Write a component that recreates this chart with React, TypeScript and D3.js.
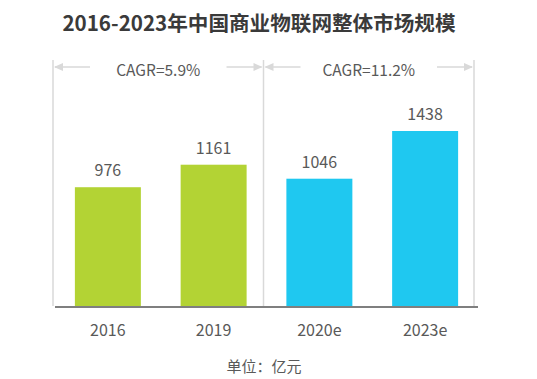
import React from "react";
import * as d3 from "d3";

const categories = ["2016", "2019", "2020e", "2023e"];
const values = [976, 1161, 1046, 1438];
const barColors = ["#b3d334", "#b3d334", "#1fc8f0", "#1fc8f0"];
const cagrLabels = ["CAGR=5.9%", "CAGR=11.2%"];
const cagrGroups = [["2016", "2019"], ["2020e", "2023e"]];
const title = "2016-2023年中国商业物联网整体市场规模";
const unitLabel = "单位：亿元";

const W = 537;
const H = 379;
const FONT = "'Noto Sans CJK SC', 'Open Sans', sans-serif";

export default function App() {
  const x = d3
    .scaleBand<string>()
    .domain(categories)
    .range([55, 478])
    .paddingInner(0.376)
    .paddingOuter(0.188);
  const y = d3.scaleLinear().domain([0, 1438]).range([306, 131]);

  const dividers = [53, 263.5, 474];
  const arrowY = 67;
  const gray = "#d9d9d9";

  return (
    <div style={{ position: "fixed", left: 0, top: 0 }}>
      <svg width={W} height={H} style={{ display: "block", background: "#fff" }}>
        <text
          x={259}
          y={22}
          textAnchor="middle"
          dominantBaseline="central"
          fontFamily={FONT}
          fontWeight="bold"
          fontSize={20.6}
          fill="#3a3a3a"
        >
          {title}
        </text>

        {dividers.map((dx, i) => (
          <line key={i} x1={dx} x2={dx} y1={60} y2={306} stroke={gray} strokeWidth={1.5} />
        ))}

        {cagrGroups.map((g, i) => {
          const left = dividers[i];
          const right = dividers[i + 1];
          const cx = (left + right) / 2;
          const half = (right - left) / 2;
          const gap = half - 37;
          return (
            <g key={i}>
              <line x1={left + 2} x2={cx - gap} y1={arrowY} y2={arrowY} stroke={gray} strokeWidth={1.5} />
              <line x1={cx + gap} x2={right - 2} y1={arrowY} y2={arrowY} stroke={gray} strokeWidth={1.5} />
              <path
                d={`M${left + 1},${arrowY} L${left + 10},${arrowY - 4} L${left + 10},${arrowY + 4} Z`}
                fill={gray}
              />
              <path
                d={`M${right - 1},${arrowY} L${right - 10},${arrowY - 4} L${right - 10},${arrowY + 4} Z`}
                fill={gray}
              />
              <text
                x={cx}
                y={arrowY + 2}
                textAnchor="middle"
                dominantBaseline="central"
                fontFamily={FONT}
                fontSize={15.5}
                fill="#595959"
              >
                {cagrLabels[i]}
              </text>
            </g>
          );
        })}

        {categories.map((c, i) => (
          <g key={c}>
            <rect
              x={x(c)}
              y={y(values[i])}
              width={x.bandwidth()}
              height={y(0) - y(values[i])}
              fill={barColors[i]}
            />
            <text
              x={(x(c) as number) + x.bandwidth() / 2}
              y={y(values[i]) - 18}
              textAnchor="middle"
              dominantBaseline="central"
              fontFamily={FONT}
              fontSize={16}
              fill="#595959"
            >
              {values[i]}
            </text>
            <text
              x={(x(c) as number) + x.bandwidth() / 2}
              y={329}
              textAnchor="middle"
              dominantBaseline="central"
              fontFamily={FONT}
              fontSize={16}
              fill="#595959"
            >
              {c}
            </text>
          </g>
        ))}

        <line x1={55} x2={478} y1={307} y2={307} stroke="#555" strokeWidth={1.5} />

        <text
          x={264}
          y={365}
          textAnchor="middle"
          dominantBaseline="central"
          fontFamily={FONT}
          fontSize={15}
          fill="#595959"
        >
          {unitLabel}
        </text>
      </svg>
    </div>
  );
}
